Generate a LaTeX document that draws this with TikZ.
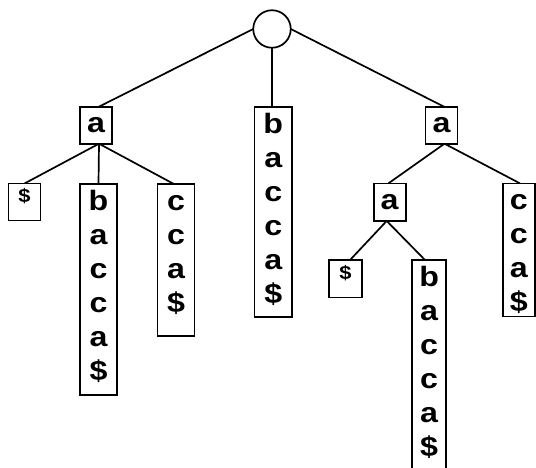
\documentclass[tikz,border=0pt]{standalone}
\usepackage{fontspec}
\setmainfont{Liberation Sans}[FakeStretch=1.15]
\begin{document}
\begin{tikzpicture}[x=1pt, y=-1pt, line width=1.7pt,
  every node/.style={inner sep=0pt, outer sep=0pt},
  letterbox/.style={draw, rectangle, font=\fontsize{28}{34}\selectfont\bfseries},
  tallbox/.style={draw, rectangle, anchor=north},
  column/.style={anchor=north, align=center, font=\fontsize{28}{34}\selectfont\bfseries},
  smalldollar/.style={anchor=north, font=\fontsize{19}{19}\selectfont\bfseries}]
\clip (0,0) rectangle (536,468);

% root
\node[draw, circle, minimum size=37.5] (root) at (272,29) {};

% first level
\node[letterbox, minimum width=32, minimum height=37] (la) at (96,125.2) {a};
\node[tallbox, minimum width=37.5, minimum height=210] (mb) at (273.3,106.7) {};
\node[column] (mbt) at ([yshift=-5.5pt]mb.north) {\rule{0pt}{21pt}b\\a\\c\\c\\a\\\$};
\node[letterbox, minimum width=32, minimum height=37] (ra) at (441.5,125.2) {a};

% children of the left a
\node[draw, rectangle, minimum width=32, minimum height=37] (ld) at (24.5,202) {};
\node[smalldollar] (ldt) at ([yshift=-5pt]ld.north) {\$};
\node[tallbox, minimum width=37.5, minimum height=211] (lb) at (98.5,183.7) {};
\node[column] (lbt) at ([yshift=-5.5pt]lb.north) {\rule{0pt}{21pt}b\\a\\c\\c\\a\\\$};
\node[tallbox, minimum width=37, minimum height=152] (lc) at (176,183.7) {};
\node[column] (lct) at ([yshift=-5.5pt]lc.north) {\rule{0pt}{21pt}c\\c\\a\\\$};

% children of the right a
\node[letterbox, minimum width=32, minimum height=37.5] (rma) at (389.7,202.2) {a};
\node[tallbox, minimum width=32, minimum height=133] (rc) at (518.7,183.4) {};
\node[column] (rct) at ([yshift=-5.5pt]rc.north) {\rule{0pt}{21pt}c\\c\\a\\\$};

% children of the inner a
\node[draw, rectangle, minimum width=32.5, minimum height=37.5] (rd) at (345.4,278.8) {};
\node[smalldollar] (rdt) at ([yshift=-5pt]rd.north) {\$};
\node[tallbox, minimum width=34, minimum height=212] (rb) at (429.2,260) {};
\node[column] (rbt) at ([yshift=-5.5pt]rb.north) {\rule{0pt}{21pt}b\\a\\c\\c\\a\\\$};

% connectors
\draw (root.west) -- ([xshift=3pt]la.north);
\draw (root.south) -- (root.south |- mb.north);
\draw (root.east) -- ([xshift=2.5pt]ra.north);

\draw ([xshift=3pt]la.south) -- (ld.north);
\draw ([xshift=3pt]la.south) -- (lb.north);
\draw ([xshift=3pt]la.south) -- ([xshift=-2.7pt]lc.north);

\draw ([xshift=3pt]ra.south) -- ([xshift=-1.4pt]rma.north);
\draw ([xshift=3pt]ra.south) -- ([xshift=1.3pt]rc.north);

\draw ([xshift=-3pt]rma.south) -- ([xshift=4.6pt]rd.north);
\draw ([xshift=-3pt]rma.south) -- ([xshift=-4.2pt]rb.north);
\end{tikzpicture}
\end{document}
